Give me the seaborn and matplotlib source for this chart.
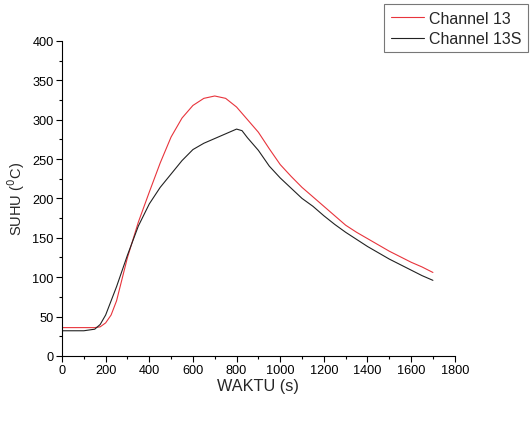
import matplotlib
matplotlib.use("Agg")
import matplotlib.pyplot as plt
import seaborn as sns
import pandas as pd
from matplotlib.ticker import MultipleLocator

time_red = [0, 50, 100, 150, 175, 200, 225, 250, 300, 350, 400, 450, 500, 550, 600, 650, 700, 750,
            800, 850, 900, 950, 1000, 1050, 1100, 1150, 1200, 1250, 1300, 1350, 1400, 1450, 1500,
            1550, 1600, 1650, 1700]
ch13 = [36, 36, 36, 36, 37, 42, 52, 70, 125, 170, 208, 245, 278, 302, 318, 327, 330, 327,
        316, 300, 284, 263, 243, 228, 214, 202, 190, 178, 166, 157, 149, 141, 133,
        126, 119, 113, 106]

time_blk = [0, 50, 100, 150, 175, 200, 250, 300, 350, 400, 450, 500, 550, 600, 650, 700, 750,
            800, 825, 850, 900, 950, 1000, 1050, 1100, 1150, 1200, 1250, 1300, 1350, 1400, 1450,
            1500, 1550, 1600, 1650, 1700]
ch13s = [32, 32, 32, 34, 40, 52, 88, 128, 165, 193, 214, 231, 248, 262, 270, 276, 282,
         288, 286, 277, 261, 241, 226, 213, 200, 190, 178, 167, 157, 148, 139, 131,
         123, 116, 109, 102, 96]

sns.set_theme(style="white")
plt.rcParams['font.family'] = ['Liberation Sans', 'DejaVu Sans']

df_red = pd.DataFrame({"t": time_red, "v": ch13})
df_blk = pd.DataFrame({"t": time_blk, "v": ch13s})

fig = plt.figure(figsize=(5.30, 4.27), dpi=100)
ax = fig.add_axes([0.117, 0.164, 0.741, 0.738])

sns.lineplot(data=df_red, x="t", y="v", ax=ax, color="#e8343c", linewidth=0.8, label="Channel 13")
sns.lineplot(data=df_blk, x="t", y="v", ax=ax, color="#222222", linewidth=0.8, label="Channel 13S")

ax.set_xlim(0, 1800)
ax.set_ylim(0, 400)
ax.xaxis.set_major_locator(MultipleLocator(200))
ax.xaxis.set_minor_locator(MultipleLocator(100))
ax.yaxis.set_major_locator(MultipleLocator(50))
ax.yaxis.set_minor_locator(MultipleLocator(25))
ax.tick_params(which="major", direction="out", length=4, width=0.8, colors="black",
               labelsize=9.2, bottom=True, left=True, pad=2)
ax.tick_params(which="minor", direction="out", length=2, width=0.8, colors="black",
               bottom=True, left=True)
for s in ["top", "right"]:
    ax.spines[s].set_visible(False)
for s in ["left", "bottom"]:
    ax.spines[s].set_color("black")
    ax.spines[s].set_linewidth(0.8)

ax.set_xlabel("WAKTU (s)", fontsize=11.7, labelpad=1)
ax.set_ylabel("SUHU ($^{0}$C)", fontsize=10.5, labelpad=4)

ax.get_legend().remove()
h, l = ax.get_legend_handles_labels()
leg = fig.legend(h, l, loc="upper right", bbox_to_anchor=(0.996, 0.988), frameon=True,
                 fancybox=False, edgecolor="#555555", fontsize=11.5, handlelength=2.1,
                 borderpad=0.4, labelspacing=0.35, handletextpad=0.3, borderaxespad=0)
leg.get_frame().set_linewidth(0.8)

fig.savefig("out.png", dpi=100, facecolor="white")
